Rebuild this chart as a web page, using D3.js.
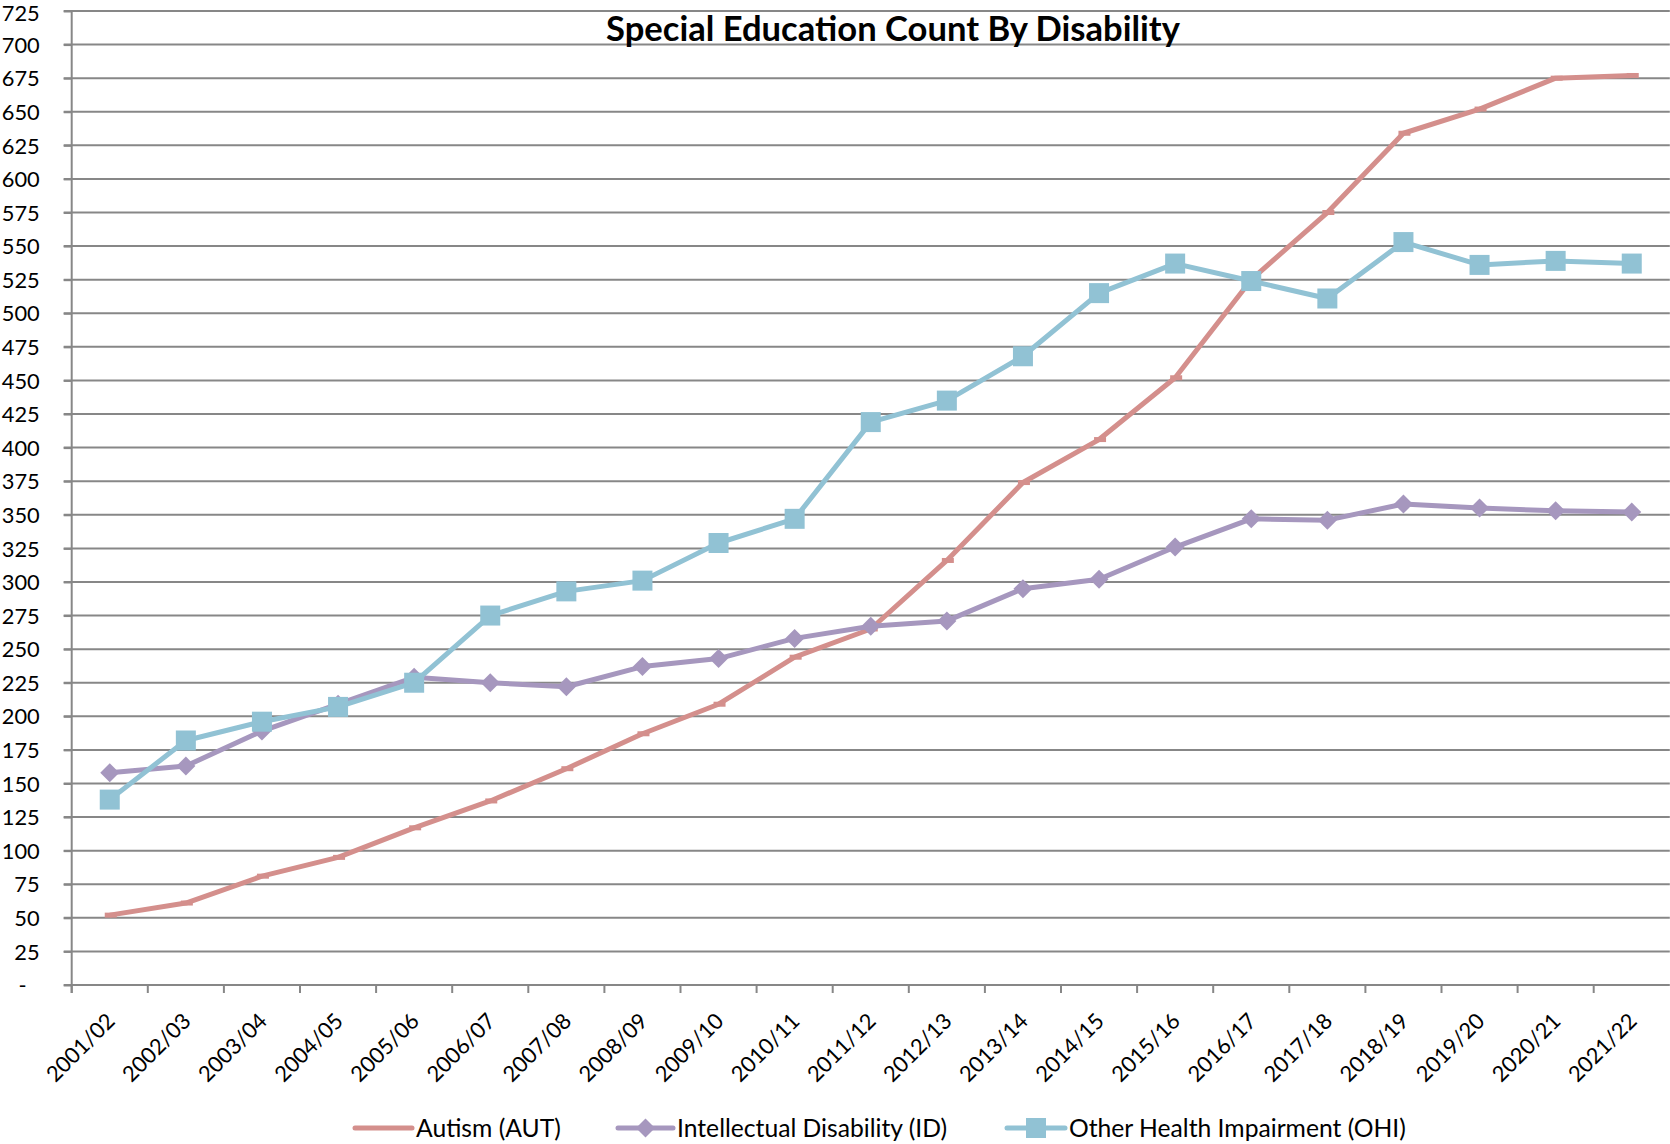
<!DOCTYPE html>
<html>
<head>
<meta charset="utf-8">
<script src="https://cdn.jsdelivr.net/npm/d3@7"></script>
<style>
  html, body { margin: 0; padding: 0; background: #fff; }
  svg { display: block; }
</style>
</head>
<body>
<svg id="chart" width="1670" height="1144"></svg>
<script>
const categories = ["2001/02","2002/03","2003/04","2004/05","2005/06","2006/07","2007/08","2008/09","2009/10","2010/11","2011/12","2012/13","2013/14","2014/15","2015/16","2016/17","2017/18","2018/19","2019/20","2020/21","2021/22"];
const autism = [52, 61, 81, 95, 117, 137, 161, 187, 209, 244, 265, 316, 374, 406, 452, 525, 575, 634, 652, 675, 677];
const intellectual = [158, 163, 189, 209, 229, 225, 222, 237, 243, 258, 267, 271, 295, 302, 326, 347, 346, 358, 355, 353, 352];
const otherHealth = [138, 182, 196, 207, 225, 275, 293, 301, 329, 347, 419, 435, 468, 515, 537, 524, 511, 553, 536, 539, 537];
const yTickValues = [0,25,50,75,100,125,150,175,200,225,250,275,300,325,350,375,400,425,450,475,500,525,550,575,600,625,650,675,700,725];
const seriesNames = ["Autism (AUT)", "Intellectual Disability (ID)", "Other Health Impairment (OHI)"];
const title = "Special Education Count By Disability";

(function () {
const FONT = "Lato, 'Open Sans', sans-serif";
const colors = { aut: "#D48F8C", id: "#A697BE", ohi: "#91C2D4" };
const gridColor = "#878787";

const svg = d3.select("#chart");

function fitSize(str, weight, target) {
  const t = svg.append("text").attr("font-family", FONT).attr("font-weight", weight)
    .attr("font-size", 100).text(str);
  const w = t.node().getComputedTextLength();
  t.remove();
  return 100 * target / w;
}

const pLeft = 71.7, pRight = 1669.8, pTop = 11, pBottom = 985;
const x = d3.scaleBand().domain(categories).range([pLeft, pRight]).padding(0);
const y = d3.scaleLinear().domain([0, 725]).range([pBottom, pTop]);

const ySize = fitSize("725", 400, 38);
const xSize = fitSize("2001/02", 400, 86);
const legSize = fitSize("Other Health Impairment (OHI)", 400, 337);
const titleSize = fitSize(title, 700, 574);

// gridlines
svg.append("g").selectAll("line").data(yTickValues.filter(v => v > 0)).join("line")
  .attr("x1", pLeft - 8).attr("x2", pRight).attr("y1", d => y(d)).attr("y2", d => y(d))
  .attr("stroke", gridColor).attr("stroke-width", 2);

// y axis
const yAxis = d3.axisLeft(y).tickValues(yTickValues).tickSize(8)
  .tickFormat(d => d === 0 ? "-" : d3.format("d")(d));
const yg = svg.append("g").attr("transform", `translate(${pLeft},0)`).call(yAxis);
yg.select(".domain").remove();
yg.selectAll(".tick line").attr("stroke", gridColor).attr("stroke-width", 2);
yg.selectAll(".tick text").attr("font-family", FONT).attr("font-size", ySize)
  .attr("fill", "#000").attr("x", -32).attr("dy", "0.35em")
  .filter(d => d === 0).attr("x", -45);
// keep the topmost label inside the picture
yg.selectAll(".tick text").filter(d => d === 725).attr("dy", "0.42em");
svg.append("line").attr("x1", pLeft).attr("x2", pLeft).attr("y1", pTop).attr("y2", pBottom + 8)
  .attr("stroke", gridColor).attr("stroke-width", 2);

// x axis
svg.append("line").attr("x1", pLeft - 8).attr("x2", pRight).attr("y1", pBottom).attr("y2", pBottom)
  .attr("stroke", gridColor).attr("stroke-width", 2);
svg.append("g").selectAll("line").data(categories).join("line")
  .attr("x1", d => x(d)).attr("x2", d => x(d)).attr("y1", pBottom).attr("y2", pBottom + 8)
  .attr("stroke", gridColor).attr("stroke-width", 2);
svg.append("g").selectAll("text").data(categories).join("text")
  .attr("transform", d => `translate(${x(d) + x.bandwidth() / 2 + 1},1017) rotate(-45)`)
  .attr("text-anchor", "end").attr("dy", "0.35em")
  .attr("font-family", FONT).attr("font-size", xSize).attr("fill", "#000")
  .text(d => d);

// title
svg.append("text").attr("x", 893).attr("y", 41).attr("text-anchor", "middle")
  .attr("font-family", FONT).attr("font-weight", 700).attr("font-size", titleSize)
  .attr("fill", "#000").text(title);

const cx = d => x(d) + x.bandwidth() / 2;
const line = d3.line().x(d => cx(d.c)).y(d => y(d.v));
const pack = vals => categories.map((c, i) => ({ c, v: vals[i] }));

function diamondPath(px, py, s) {
  return `M${px},${py - s}L${px + s},${py}L${px},${py + s}L${px - s},${py}Z`;
}

// Autism
const aData = pack(autism);
svg.append("path").datum(aData).attr("d", line).attr("fill", "none")
  .attr("stroke", colors.aut).attr("stroke-width", 5).attr("stroke-linejoin", "round");
svg.append("g").selectAll("rect").data(aData).join("rect")
  .attr("x", d => cx(d.c) - 5).attr("y", d => y(d.v) - 2.5).attr("width", 12).attr("height", 5)
  .attr("fill", colors.aut);

// Intellectual Disability
const iData = pack(intellectual);
svg.append("path").datum(iData).attr("d", line).attr("fill", "none")
  .attr("stroke", colors.id).attr("stroke-width", 5).attr("stroke-linejoin", "round");
svg.append("g").selectAll("path").data(iData).join("path")
  .attr("d", d => diamondPath(cx(d.c), y(d.v), 9.5))
  .attr("fill", colors.id);

// Other Health Impairment
const oData = pack(otherHealth);
svg.append("path").datum(oData).attr("d", line).attr("fill", "none")
  .attr("stroke", colors.ohi).attr("stroke-width", 5).attr("stroke-linejoin", "round");
svg.append("g").selectAll("rect").data(oData).join("rect")
  .attr("x", d => cx(d.c) - 10).attr("y", d => y(d.v) - 10).attr("width", 20).attr("height", 20)
  .attr("fill", colors.ohi);

// legend
const legY = 1128;
const leg = svg.append("g");
const legItems = [
  { name: seriesNames[0], x1: 355, x2: 412, color: colors.aut, marker: "dash" },
  { name: seriesNames[1], x1: 618, x2: 673, color: colors.id, marker: "diamond" },
  { name: seriesNames[2], x1: 1007, x2: 1065, color: colors.ohi, marker: "square" }
];
legItems.forEach(it => {
  leg.append("line").attr("x1", it.x1).attr("x2", it.x2).attr("y1", legY).attr("y2", legY)
    .attr("stroke", it.color).attr("stroke-width", 5).attr("stroke-linecap", "round");
  const mx = (it.x1 + it.x2) / 2;
  if (it.marker === "diamond") leg.append("path").attr("d", diamondPath(mx, legY, 9.5)).attr("fill", it.color);
  if (it.marker === "square") leg.append("rect").attr("x", mx - 10).attr("y", legY - 10)
    .attr("width", 20).attr("height", 20).attr("fill", it.color);
  leg.append("text").attr("x", it.x2 + 4).attr("y", legY).attr("dy", "0.35em")
    .attr("font-family", FONT).attr("font-size", legSize).attr("fill", "#000").text(it.name);
});
})();
</script>
</body>
</html>
